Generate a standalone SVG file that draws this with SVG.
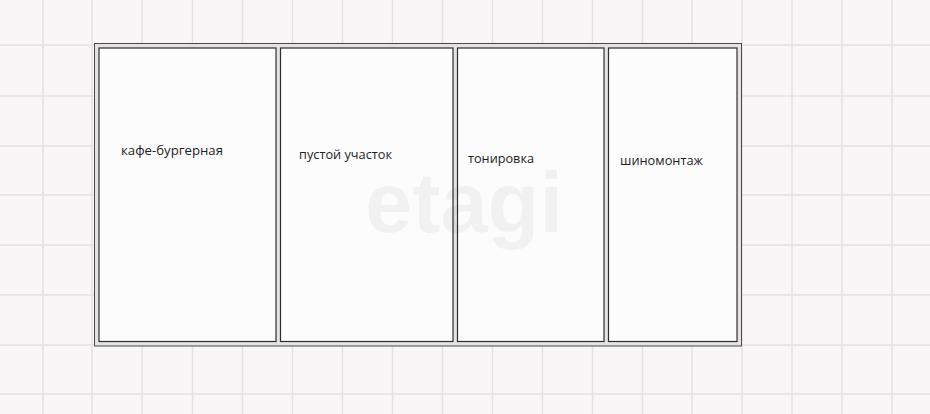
<svg xmlns="http://www.w3.org/2000/svg" width="930" height="414" viewBox="0 0 930 414">
  <style>
    .grid line { stroke: #e3e1e2; stroke-width: 1.5; }
    .room { fill: #fdfcfd; stroke: #2e2e2e; stroke-width: 1.2; }
    .label { font-family: "Open Sans", "Noto Sans", "Liberation Sans", sans-serif; font-size: 13px; fill: #1e1e1e; }
    .wm { font-family: "Liberation Sans", Arial, sans-serif; font-weight: bold; font-size: 86px; fill: #000; fill-opacity: 0.045; }
  </style>
  <rect x="0" y="0" width="930" height="414" fill="#f8f6f7"/>
  <g class="grid">
    <line x1="43" y1="0" x2="43" y2="414"/>
    <line x1="92" y1="0" x2="92" y2="414"/>
    <line x1="142" y1="0" x2="142" y2="414"/>
    <line x1="192.5" y1="0" x2="192.5" y2="414"/>
    <line x1="242.5" y1="0" x2="242.5" y2="414"/>
    <line x1="292.5" y1="0" x2="292.5" y2="414"/>
    <line x1="342.5" y1="0" x2="342.5" y2="414"/>
    <line x1="392.5" y1="0" x2="392.5" y2="414"/>
    <line x1="442.5" y1="0" x2="442.5" y2="414"/>
    <line x1="492.5" y1="0" x2="492.5" y2="414"/>
    <line x1="542.5" y1="0" x2="542.5" y2="414"/>
    <line x1="592.5" y1="0" x2="592.5" y2="414"/>
    <line x1="642.5" y1="0" x2="642.5" y2="414"/>
    <line x1="692" y1="0" x2="692" y2="414"/>
    <line x1="742" y1="0" x2="742" y2="414"/>
    <line x1="792" y1="0" x2="792" y2="414"/>
    <line x1="842" y1="0" x2="842" y2="414"/>
    <line x1="892" y1="0" x2="892" y2="414"/>
    <line x1="0" y1="45" x2="930" y2="45"/>
    <line x1="0" y1="96" x2="930" y2="96"/>
    <line x1="0" y1="146" x2="930" y2="146"/>
    <line x1="0" y1="195" x2="930" y2="195"/>
    <line x1="0" y1="245" x2="930" y2="245"/>
    <line x1="0" y1="295" x2="930" y2="295"/>
    <line x1="0" y1="345" x2="930" y2="345"/>
    <line x1="0" y1="394" x2="930" y2="394"/>
  </g>
  <g id="frame">
    <rect x="94.5" y="43.5" width="647" height="302.5" fill="#e4e3e4" stroke="#4a4a4a" stroke-width="1"/>
  </g>
  <g id="connectors"/>
  <g id="cafe">
    <rect class="room" x="99" y="48" width="177" height="293.5"/>
    <text class="label" x="121" y="155" textLength="102" lengthAdjust="spacingAndGlyphs">кафе-бургерная</text>
  </g>
  <g id="empty-lot">
    <rect class="room" x="280.5" y="48" width="172.5" height="293.5"/>
    <text class="label" x="299" y="159" textLength="93" lengthAdjust="spacingAndGlyphs">пустой участок</text>
  </g>
  <g id="tinting">
    <rect class="room" x="457.5" y="48" width="146.5" height="293.5"/>
    <text class="label" x="468" y="163" textLength="66" lengthAdjust="spacingAndGlyphs">тонировка</text>
  </g>
  <g id="tire-service">
    <rect class="room" x="608.5" y="48" width="128.5" height="293.5"/>
    <text class="label" x="620" y="165" textLength="83" lengthAdjust="spacingAndGlyphs">шиномонтаж</text>
  </g>
  <text class="wm" x="365" y="232" textLength="198" lengthAdjust="spacingAndGlyphs">etagi</text>
</svg>
